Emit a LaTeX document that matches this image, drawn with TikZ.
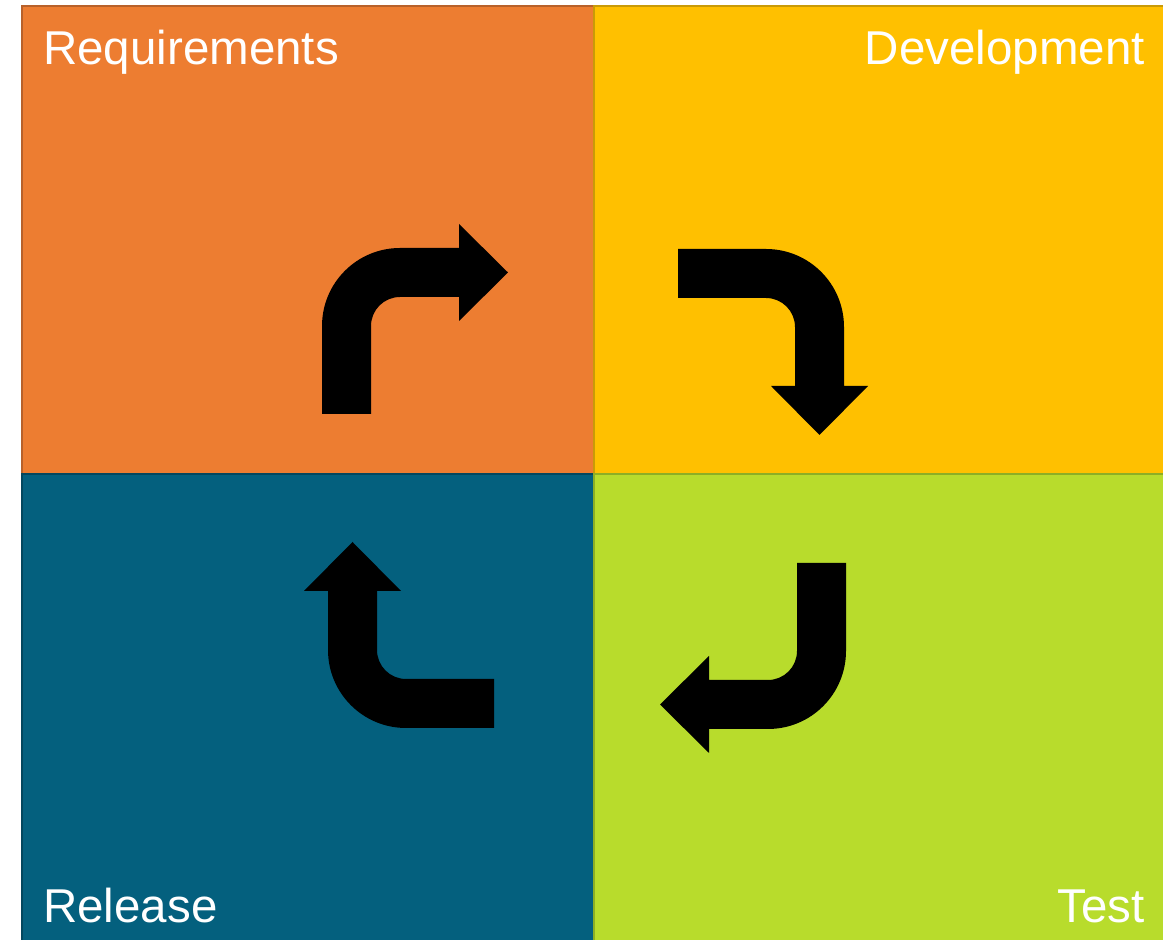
\documentclass[tikz,border=0pt]{standalone}
\usepackage{fontspec}
\setmainfont{Liberation Sans}
\definecolor{cReq}{HTML}{ED7D31}
\definecolor{cReqB}{HTML}{B8612A}
\definecolor{cDev}{HTML}{FFC000}
\definecolor{cDevB}{HTML}{C99A08}
\definecolor{cRel}{HTML}{04607E}
\definecolor{cRelB}{HTML}{03475E}
\definecolor{cTest}{HTML}{B8DC2C}
\definecolor{cTestB}{HTML}{8DAE25}
\tikzset{
  quad/.style={line width=2pt},
  lbl/.style={text=white, inner sep=0pt, font=\fontsize{47.5}{56}\selectfont},
  turnarrow/.pic={
    \fill[black] (-78,-88) -- (-78,0) arc[start angle=180,end angle=90,radius=78]
      -- (59,78) -- (59,102) -- (108,53.5) -- (59,5) -- (59,29) -- (0,29)
      arc[start angle=90,end angle=180,radius=29] -- (-29,-88) -- cycle;
  }
}
\begin{document}
\begin{tikzpicture}[x=1pt,y=1pt]
\useasboundingbox (0,0) rectangle (1163,940);
\clip (0,0) rectangle (1163,940);
\fill[white] (0,0) rectangle (1163,940);
% quadrants
\filldraw[quad, fill=cReq, draw=cReqB] (22,466) rectangle (594,934);
\filldraw[quad, fill=cDev, draw=cDevB] (594,466) rectangle (1170,934);
\filldraw[quad, fill=cRel, draw=cRelB] (22,-10) rectangle (594,466);
\filldraw[quad, fill=cTest, draw=cTestB] (594,-10) rectangle (1170,466);
% arrows
\pic at (400,614) {turnarrow};
\pic[rotate=-90] at (766,613) {turnarrow};
\pic[rotate=180] at (768,289) {turnarrow};
\pic[rotate=90] at (406,290) {turnarrow};
% labels
\node[lbl, anchor=base west] (req) at (43,875) {Requirements};
\node[lbl, anchor=base east] (dev) at (1145,875) {Development};
\node[lbl, anchor=base west] (rel) at (43,17) {Release};
\node[lbl, anchor=base east] (test) at (1145,17) {Test};
\end{tikzpicture}
\end{document}
